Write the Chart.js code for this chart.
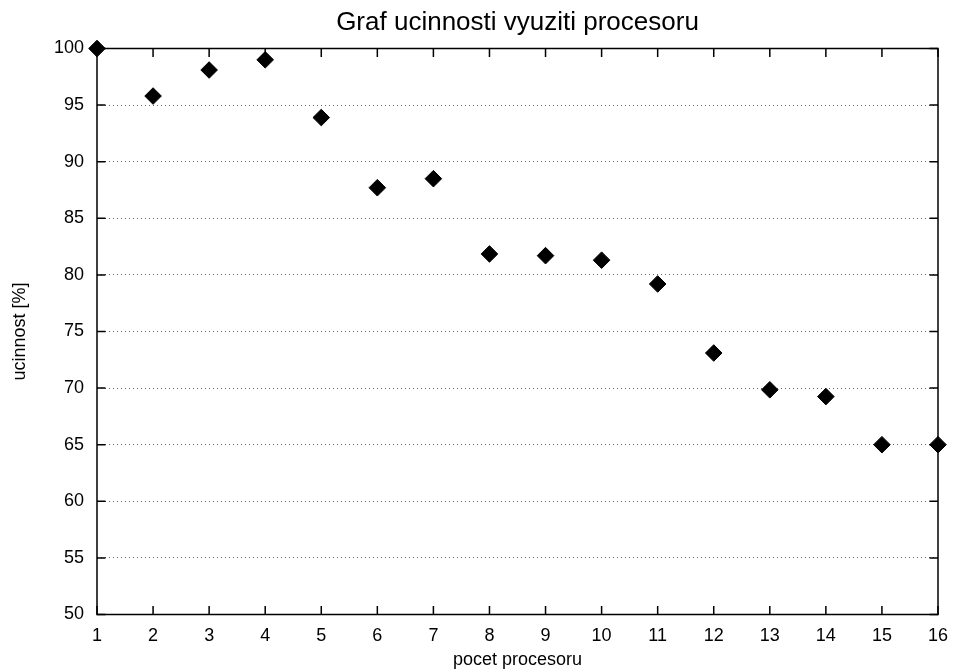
<!DOCTYPE html>
<html>
<head>
<meta charset="utf-8">
<title>Graf ucinnosti vyuziti procesoru</title>
<script src="https://cdn.jsdelivr.net/npm/chart.js@4.4.1/dist/chart.umd.min.js"></script>
<style>
    body { margin: 0; background: #fff; }
    #wrap { width: 953px; height: 672px; }
</style>
</head>
<body>
<div id="wrap"><canvas id="chart"></canvas></div>
<script>
const processors = [1, 2, 3, 4, 5, 6, 7, 8, 9, 10, 11, 12, 13, 14, 15, 16];
const efficiency = [100, 95.8, 98.1, 99.0, 93.9, 87.7, 88.5, 81.85, 81.7, 81.3, 79.2, 73.1, 69.85, 69.25, 65.0, 65.0];
const yMin = 50;
const yMax = 100;
const yStep = 5;

const fontFamily = '"Liberation Sans", Arial, sans-serif';

// gnuplot style frame: solid border and inward ticks on all four sides
const framePlugin = {
    id: 'frame',
    beforeDatasetsDraw(chart) {
        const ctx = chart.ctx;
        const area = chart.chartArea;
        const x = chart.scales.x;
        const y = chart.scales.y;
        const tickLen = 8.5;
        ctx.save();
        ctx.strokeStyle = '#000';
        ctx.lineWidth = 1.5;
        ctx.beginPath();
        processors.forEach(function (p) {
            const px = x.getPixelForValue(p);
            ctx.moveTo(px, area.bottom);
            ctx.lineTo(px, area.bottom - tickLen);
            ctx.moveTo(px, area.top);
            ctx.lineTo(px, area.top + tickLen);
        });
        for (let v = yMin; v <= yMax; v += yStep) {
            const py = y.getPixelForValue(v);
            ctx.moveTo(area.left, py);
            ctx.lineTo(area.left + tickLen, py);
            ctx.moveTo(area.right, py);
            ctx.lineTo(area.right - tickLen, py);
        }
        ctx.stroke();
        ctx.strokeRect(area.left, area.top, area.right - area.left, area.bottom - area.top);
        ctx.restore();
    }
};

function fixHorizontal(height) {
    return function (scale) {
        scale.height = height;
        scale.paddingLeft = 0;
        scale.paddingRight = 0;
    };
}

new Chart(document.getElementById('chart'), {
    type: 'scatter',
    data: {
        datasets: [{
            data: processors.map(function (p, i) { return { x: p, y: efficiency[i] }; }),
            pointStyle: 'rectRot',
            pointRadius: 8.3,
            pointHoverRadius: 8.3,
            backgroundColor: '#000',
            borderColor: '#000',
            borderWidth: 1,
            showLine: false,
            clip: false
        }]
    },
    options: {
        responsive: true,
        maintainAspectRatio: false,
        animation: false,
        layout: { padding: { left: 0, right: 15, top: 0, bottom: 0 } },
        plugins: {
            legend: { display: false },
            tooltip: { enabled: false },
            title: { display: false }
        },
        scales: {
            x: {
                type: 'linear',
                position: 'bottom',
                min: 1,
                max: 16,
                afterFit: fixHorizontal(57.5),
                ticks: {
                    stepSize: 1,
                    padding: 3,
                    color: '#000',
                    font: { family: fontFamily, size: 18 }
                },
                grid: { display: false },
                border: { display: false },
                title: {
                    display: true,
                    text: 'pocet procesoru',
                    color: '#000',
                    font: { family: fontFamily, size: 18 },
                    padding: { top: 0, bottom: 1 }
                }
            },
            x2: {
                type: 'linear',
                position: 'top',
                min: 1,
                max: 16,
                afterFit: fixHorizontal(48.5),
                ticks: { display: false },
                grid: { display: false },
                border: { display: false },
                title: {
                    display: true,
                    text: 'Graf ucinnosti vyuziti procesoru',
                    color: '#000',
                    font: { family: fontFamily, size: 26 },
                    padding: { top: 7, bottom: 0 }
                }
            },
            y: {
                min: yMin,
                max: yMax,
                afterFit: function (scale) { scale.width = 97; },
                ticks: {
                    stepSize: yStep,
                    padding: 13,
                    color: '#000',
                    font: { family: fontFamily, size: 18 }
                },
                grid: {
                    color: '#666',
                    lineWidth: 1,
                    drawTicks: false
                },
                border: { display: false, dash: [1, 3] },
                title: {
                    display: true,
                    text: 'ucinnost [%]',
                    color: '#000',
                    font: { family: fontFamily, size: 18 },
                    padding: { top: 9, bottom: 0 }
                }
            }
        }
    },
    plugins: [framePlugin]
});
</script>
</body>
</html>
